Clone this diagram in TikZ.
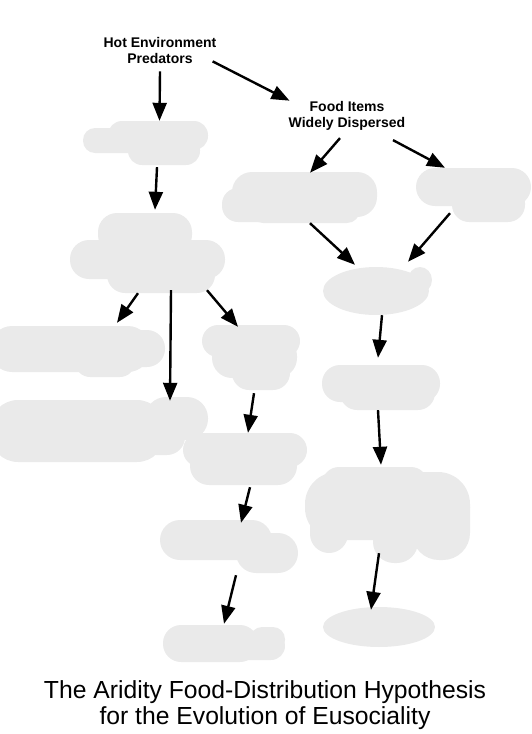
\documentclass[tikz,border=0pt]{standalone}
\usepackage{fontspec}
\setmainfont{Liberation Sans}
\usetikzlibrary{arrows.meta}
\definecolor{blobgray}{RGB}{234,234,234}
\newcommand\cldrect[5]{\fill[blobgray, rounded corners=#5pt] (#1,#2) rectangle (#3,#4);}
\newcommand\cldell[4]{\fill[blobgray] (#1,#2) ellipse [x radius=#3pt, y radius=#4pt];}
\begin{document}
\begin{tikzpicture}[x=1pt,y=-1pt,
  arr/.style={line width=2.4pt, -{Triangle[length=18pt,width=14pt]}},
  lbl/.style={font=\bfseries\fontsize{14}{16}\selectfont, align=center, inner sep=0pt},
  ttl/.style={font=\fontsize{24.7}{25.5}\selectfont, align=center, inner sep=0pt},
  area/.style 2 args={draw=none, inner sep=0pt, minimum width=#1pt, minimum height=#2pt}]
\useasboundingbox (0,0) rectangle (531,734);

% ---- gray cloud shapes ----
% b1
\cldrect{108}{121}{208}{150}{14}
\cldrect{83}{128}{185}{153}{12}
\cldrect{128}{136}{200}{165}{14}
% b2
\cldrect{98}{213}{192}{254}{19}
\cldrect{70}{240}{225}{279}{19}
\cldrect{107}{256}{215}{293}{18}
% b3
\cldrect{232}{172}{377}{217}{20}
\cldrect{222}{188}{300}{222}{16}
\cldrect{250}{196}{360}{223}{13}
% b4
\cldrect{416}{168}{531}{206}{19}
\cldrect{420}{182}{470}{204}{11}
\cldrect{452}{186}{525}{222}{17}
% b5
\cldell{376}{291}{53}{24}
\cldell{420}{280}{12}{13}
% b6
\cldrect{-10}{326}{150}{372}{22}
\cldrect{115}{330}{165}{367}{18}
\cldrect{75}{346}{135}{377}{15}
% b7
\cldrect{202}{325}{300}{357}{16}
\cldrect{212}{336}{297}{378}{20}
\cldrect{232}{356}{290}{390}{17}
% b8
\cldrect{322}{365}{440}{402}{18}
\cldrect{340}{376}{435}{410}{17}
% b9
\cldrect{-10}{400}{165}{462}{28}
\cldrect{145}{397}{208}{440}{21}
\cldrect{138}{416}{185}{455}{18}
% b10
\cldrect{183}{433}{307}{467}{17}
\cldrect{190}{446}{297}{485}{19}
% b11
\cldrect{305}{472}{470}{540}{32}
\cldrect{322}{467}{428}{502}{17}
\cldrect{310}{502}{348}{553}{19}
\cldrect{373}{502}{418}{563}{21}
\cldrect{412}{480}{470}{560}{27}
% b12
\cldrect{160}{520}{272}{560}{20}
\cldrect{236}{533}{298}{573}{20}
% b13
\cldrect{163}{625}{258}{662}{18}
\cldrect{200}{632}{285}{660}{14}
\cldrect{250}{627}{285}{652}{12}
% b14
\cldell{379}{627}{56}{20}

% ---- named areas (positions of the hidden labels) ----
\node[area={125}{44}]  (b1)  at (145.5,143) {};
\node[area={155}{80}]  (b2)  at (147.5,253) {};
\node[area={155}{53}]  (b3)  at (299.5,196.5) {};
\node[area={115}{56}]  (b4)  at (473.5,194) {};
\node[area={110}{50}]  (b5)  at (378,290) {};
\node[area={165}{54}]  (b6)  at (82.5,350) {};
\node[area={98}{67}]   (b7)  at (251,356.5) {};
\node[area={118}{48}]  (b8)  at (381,386) {};
\node[area={208}{68}]  (b9)  at (104,429) {};
\node[area={124}{52}]  (b10) at (245,459) {};
\node[area={165}{96}]  (b11) at (387.5,515) {};
\node[area={138}{53}]  (b12) at (229,546.5) {};
\node[area={122}{39}]  (b13) at (224,642.5) {};
\node[area={112}{40}]  (b14) at (379,627) {};

% ---- text ----
\node[lbl] (hot)  at (160,50)    {Hot Environment\\Predators};
\node[lbl] (food) at (347,115.4) {Food Items\\Widely Dispersed};
\node[ttl] (title) at (265,705)  {The Aridity Food-Distribution Hypothesis\\for the Evolution of Eusociality};

% ---- arrows ----
\draw[arr] ([shift={(0,8)}]hot.south) -- ([shift={(14,0)}]b1.north);
\draw[arr] ([shift={(-4,-2)}]hot.south east) -- ([shift={(1,0)}]food.north west);
\draw[arr] ([shift={(11.5,2)}]b1.south) -- ([shift={(7.5,-3)}]b2.north);
\draw[arr] ([shift={(-7,8)}]food.south) -- ([shift={(10.5,3)}]b3.north);
\draw[arr] ([shift={(46,10)}]food.south) -- ([shift={(-28.5,2)}]b4.north);
\draw[arr] ([shift={(10.5,0)}]b3.south) -- ([shift={(-23,0)}]b5.north);
\draw[arr] ([shift={(-23.5,-9)}]b4.south) -- ([shift={(30,-3)}]b5.north);
\draw[arr] ([shift={(-9.5,0)}]b2.south) -- ([shift={(34.5,0)}]b6.north);
\draw[arr] ([shift={(23.5,-3)}]b2.south) -- ([shift={(66,6)}]b9.north);
\draw[arr] ([shift={(59.5,-3)}]b2.south) -- ([shift={(-13,4)}]b7.north);
\draw[arr] ([shift={(4,0)}]b5.south) -- ([shift={(-3,-4)}]b8.north);
\draw[arr] ([shift={(3,3)}]b7.south) -- ([shift={(3,0)}]b10.north);
\draw[arr] ([shift={(-3,0)}]b8.south) -- ([shift={(-6.5,-2)}]b11.north);
\draw[arr] ([shift={(5,2)}]b10.south) -- ([shift={(12,3)}]b12.north);
\draw[arr] ([shift={(7,2)}]b12.south) -- ([shift={(0,1)}]b13.north);
\draw[arr] ([shift={(-8.5,-10)}]b11.south) -- ([shift={(-8,3)}]b14.north);
\end{tikzpicture}
\end{document}
